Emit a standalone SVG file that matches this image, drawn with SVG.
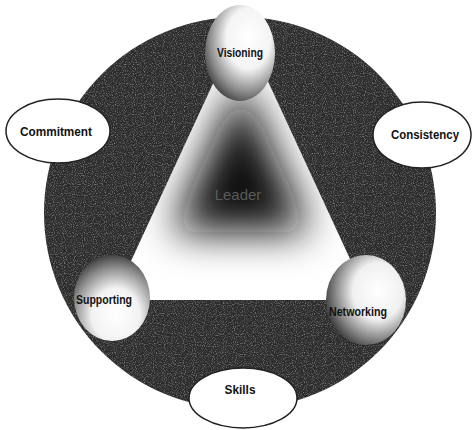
<svg xmlns="http://www.w3.org/2000/svg" width="474" height="430" viewBox="0 0 474 430">
  <style>
    .lbl { font-family: "Liberation Sans", Arial, sans-serif; font-weight: bold; font-size: 12px; fill: #111; text-anchor: middle; }
    .oval { fill: #ffffff; stroke: #222; stroke-width: 1.5; }
    .center { font-family: "Liberation Sans", Arial, sans-serif; font-size: 15px; fill: #5a5a5a; text-anchor: middle; }
  </style>
  <defs>
    <filter id="noise" x="0" y="0" width="100%" height="100%">
      <feTurbulence type="fractalNoise" baseFrequency="0.9" numOctaves="1" seed="3" result="t"/>
      <feColorMatrix in="t" type="matrix" values="0 0 0 0 1  0 0 0 0 1  0 0 0 0 1  0 0 0 -2.6 1.35" result="w"/>
      <feComposite in="w" in2="SourceGraphic" operator="in"/>
    </filter>
    <filter id="blur" x="-50%" y="-50%" width="200%" height="200%">
      <feGaussianBlur stdDeviation="20"/>
    </filter>
    <clipPath id="triClip">
      <polygon points="241,23 113,300 369,300"/>
    </clipPath>
    <radialGradient id="gVis" cx="0.62" cy="0.35" r="0.7">
      <stop offset="0" stop-color="#ffffff"/>
      <stop offset="0.45" stop-color="#f4f4f4"/>
      <stop offset="0.8" stop-color="#8a8a8a"/>
      <stop offset="1" stop-color="#444"/>
    </radialGradient>
    <radialGradient id="gNet" cx="0.65" cy="0.4" r="0.7">
      <stop offset="0" stop-color="#ffffff"/>
      <stop offset="0.45" stop-color="#f0f0f0"/>
      <stop offset="0.8" stop-color="#7a7a7a"/>
      <stop offset="1" stop-color="#333"/>
    </radialGradient>
    <radialGradient id="gSup" cx="0.55" cy="0.7" r="0.7">
      <stop offset="0" stop-color="#ffffff"/>
      <stop offset="0.45" stop-color="#f2f2f2"/>
      <stop offset="0.8" stop-color="#8a8a8a"/>
      <stop offset="1" stop-color="#444"/>
    </radialGradient>
  </defs>

  <rect width="474" height="430" fill="#ffffff"/>

  <g id="ring">
    <circle cx="240" cy="213" r="196" fill="#2c2c2c"/>
    <circle cx="240" cy="213" r="196" fill="#2c2c2c" filter="url(#noise)" opacity="0.45"/>
  </g>

  <g id="triangle">
    <polygon points="241,23 113,300 369,300" fill="#ffffff"/>
    <g clip-path="url(#triClip)">
      <polygon points="241,80 172,232 310,232" fill="#111" filter="url(#blur)"/>
    </g>
    <text class="center" x="238" y="200">Leader</text>
  </g>

  <g id="connectors"></g>

  <g id="visioning">
    <ellipse cx="240" cy="53" rx="35" ry="48" fill="url(#gVis)"/>
    <text class="lbl" x="240" y="57" textLength="46" lengthAdjust="spacingAndGlyphs">Visioning</text>
  </g>

  <g id="supporting">
    <ellipse cx="112" cy="298" rx="38" ry="43" fill="url(#gSup)"/>
    <text class="lbl" x="104" y="304" textLength="56" lengthAdjust="spacingAndGlyphs">Supporting</text>
  </g>

  <g id="networking">
    <ellipse cx="366" cy="300" rx="40" ry="45" fill="url(#gNet)"/>
    <text class="lbl" x="358" y="316" textLength="58" lengthAdjust="spacingAndGlyphs">Networking</text>
  </g>

  <g id="commitment">
    <ellipse class="oval" cx="58" cy="131" rx="52" ry="32"/>
    <text class="lbl" x="56" y="136" textLength="72" lengthAdjust="spacingAndGlyphs">Commitment</text>
  </g>

  <g id="consistency">
    <ellipse class="oval" cx="422" cy="135" rx="49" ry="33"/>
    <text class="lbl" x="425" y="139" textLength="68" lengthAdjust="spacingAndGlyphs">Consistency</text>
  </g>

  <g id="skills">
    <ellipse class="oval" cx="243" cy="398" rx="54" ry="30"/>
    <text class="lbl" x="240" y="394" textLength="31" lengthAdjust="spacingAndGlyphs">Skills</text>
  </g>
</svg>
